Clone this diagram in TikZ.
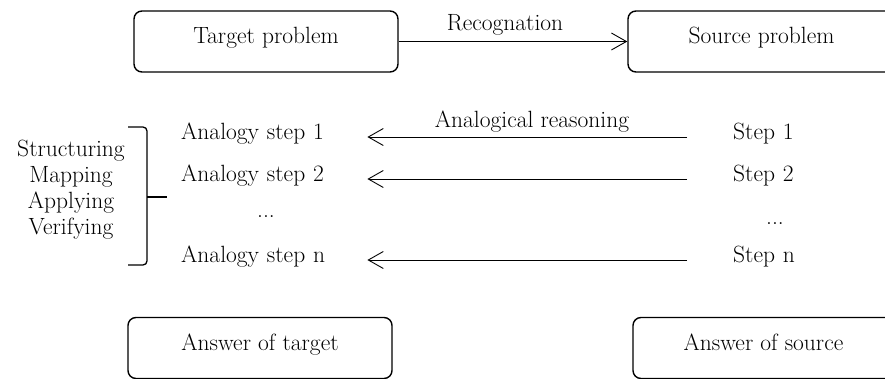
\documentclass[tikz,border=0pt]{standalone}
\usetikzlibrary{arrows.meta}
\begin{document}
\begin{tikzpicture}[x=1pt,y=-1pt,
  every node/.style={font=\fontsize{23.5}{28}\selectfont, inner sep=0pt},
  box/.style={draw, line width=1.4pt, rounded corners=8pt, minimum height=61pt,
              text height=0.7em, text depth=0.22em},
  arr/.style={-{Straight Barb[length=15pt,width=17pt]}, line width=0.9pt},
  stepname/.style={anchor=mid west, align=left},
  sidetext/.style={anchor=base},
  bracepath/.style={line width=1.3pt}
]
\useasboundingbox (0,0) rectangle (885,379);

% boxes
\node[box, minimum width=264pt] (tp) at (266,41.5) {Target problem};
\node[box, minimum width=267pt] (sp) at (761.5,41.5) {Source problem};
\node[box, minimum width=264pt] (ta) at (260,348) {Answer of target};
\node[box, minimum width=261pt] (sa) at (763.5,348) {Answer of source};

% recognation
\draw[arr] (tp.east) -- (sp.west);
\node[sidetext] (rec) at (505,31) {Recognation};

% analogy steps
\node[stepname, text width=156pt] (a1) at (181,137) {Analogy step 1};
\node[stepname, text width=156pt] (a2) at (181,179) {Analogy step 2};
\node[sidetext] (ad) at (266,218) {...};
\node[stepname, text width=156pt] (an) at (181,260) {Analogy step n};

% source steps
\node[stepname, text width=70pt] (s1) at (733,137) {Step 1};
\node[stepname, text width=70pt] (s2) at (733,179) {Step 2};
\node[sidetext] (sd) at (775,225) {...};
\node[stepname, text width=70pt] (sn) at (733,260) {Step n};

% arrows
\draw[arr, shorten <=46pt, shorten >=30pt] (s1.mid west) -- (a1.mid east);
\draw[arr, shorten <=46pt, shorten >=30pt] (s2.mid west) -- (a2.mid east);
\draw[arr, shorten <=46pt, shorten >=30pt] (sn.mid west) -- (an.mid east);
\node[sidetext] (ar) at (532,128) {Analogical reasoning};

% left column
\node[sidetext] (l1) at (71,157) {Structuring};
\node[sidetext] (l2) at (71,183) {Mapping};
\node[sidetext] (l3) at (71,209) {Applying};
\node[sidetext] (l4) at (71,235) {Verifying};

% brace
\draw[bracepath, rounded corners=4pt] (128,127) -- (147,127) -- (147,265) -- (128,265);
\draw[bracepath] (147,197) -- (167,197);
\end{tikzpicture}
\end{document}
